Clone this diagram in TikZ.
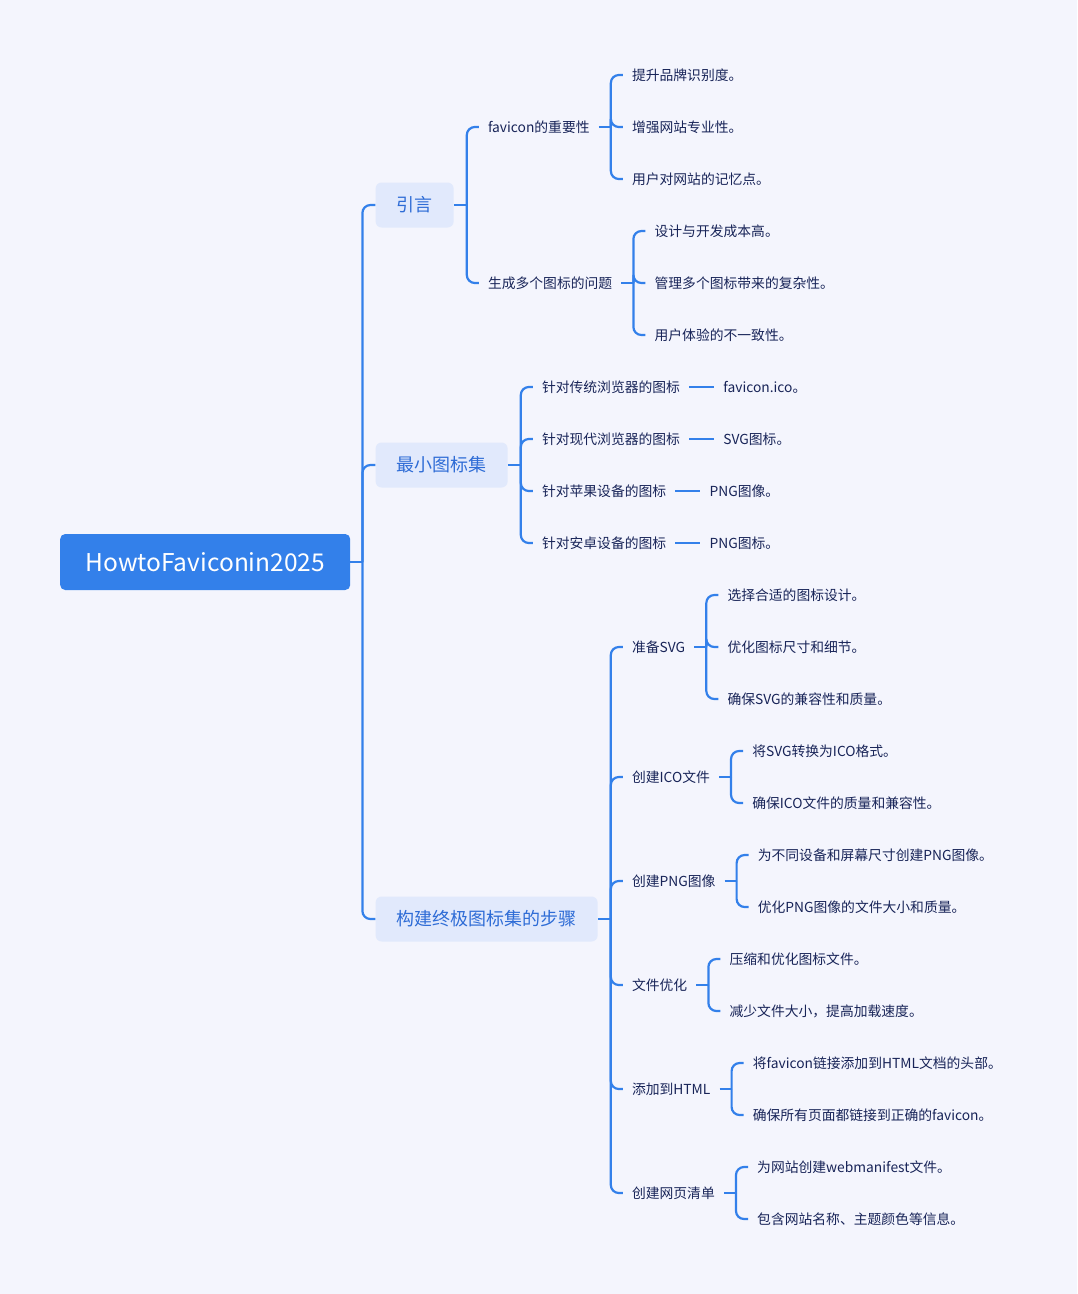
\documentclass[tikz,border=0pt]{standalone}
\usepackage{fontspec}
\setmainfont{Noto Sans CJK SC}
\usetikzlibrary{positioning, calc}
\definecolor{MapBG}{RGB}{244, 245, 253}
\definecolor{MapBlue}{RGB}{51, 128, 234}
\definecolor{TopicFill}{RGB}{225, 233, 252}
\definecolor{TopicText}{RGB}{46, 108, 214}
\definecolor{LeafText}{RGB}{24, 36, 88}
\tikzset{
    rootbox/.style={
        rectangle, rounded corners=5pt, fill=MapBlue, text=white, anchor=west,
        font=\fontsize{24.5}{28}\selectfont, minimum width=290pt, minimum height=56pt
    },
    topicbox/.style={
        rectangle, rounded corners=6pt, fill=TopicFill, text=TopicText, anchor=west,
        font=\fontsize{18}{22}\selectfont, inner xsep=21pt, minimum height=45pt
    },
    leafbox/.style={inner xsep=9pt, inner ysep=2pt, text=LeafText, anchor=west, font=\fontsize{13.8}{16}\selectfont},
    branch/.style={draw=MapBlue, line width=2.2pt, rounded corners=8pt},
}

\begin{document}
\begin{tikzpicture}[x=1pt, y=-1pt]
    \fill[MapBG] (0,0) rectangle (1077,1294);
    \useasboundingbox (0,0) rectangle (1077,1294);

    % Root
    \node[rootbox] (root) at (60,562) {HowtoFaviconin2025};
    \coordinate (f0) at ($(root.east)+(12,0)$);
    \node[topicbox] (intro) at ($(f0)+(13,-357)$) {引言};
    \node[topicbox] (minset) at ($(f0)+(13,-97)$) {最小图标集};
    \node[topicbox] (steps) at ($(f0)+(13,357)$) {构建终极图标集的步骤};
    \draw[branch] (root.east) -- (f0);
    \foreach \t in {intro, minset, steps} \draw[branch] (f0) |- (\t.west);

    % Intro
    \coordinate (f1) at ($(intro.east)+(13,0)$);
    \node[leafbox] (fav) at ($(f1)+(12,-78)$) {favicon的重要性};
    \node[leafbox] (gen) at ($(f1)+(12,78)$) {生成多个图标的问题};
    \draw[branch] (intro.east) -- (f1);
    \foreach \t in {fav, gen} \draw[branch] (f1) |- (\t.west);

    \coordinate (f11) at ($(fav.east)+(12,0)$);
    \node[leafbox] (fav1) at ($(f11)+(12,-52)$) {提升品牌识别度。};
    \node[leafbox] (fav2) at ($(f11)+(12,0)$) {增强网站专业性。};
    \node[leafbox] (fav3) at ($(f11)+(12,52)$) {用户对网站的记忆点。};
    \draw[branch] (fav.east) -- (f11);
    \foreach \t in {fav1, fav2, fav3} \draw[branch] (f11) |- (\t.west);

    \coordinate (f12) at ($(gen.east)+(12,0)$);
    \node[leafbox] (gen1) at ($(f12)+(12,-52)$) {设计与开发成本高。};
    \node[leafbox] (gen2) at ($(f12)+(12,0)$) {管理多个图标带来的复杂性。};
    \node[leafbox] (gen3) at ($(f12)+(12,52)$) {用户体验的不一致性。};
    \draw[branch] (gen.east) -- (f12);
    \foreach \t in {gen1, gen2, gen3} \draw[branch] (f12) |- (\t.west);

    % Minimal set
    \coordinate (f2) at ($(minset.east)+(13,0)$);
    \node[leafbox] (oldbr) at ($(f2)+(12,-78)$) {针对传统浏览器的图标};
    \node[leafbox] (newbr) at ($(f2)+(12,-26)$) {针对现代浏览器的图标};
    \node[leafbox] (apple) at ($(f2)+(12,26)$) {针对苹果设备的图标};
    \node[leafbox] (droid) at ($(f2)+(12,78)$) {针对安卓设备的图标};
    \draw[branch] (minset.east) -- (f2);
    \foreach \t in {oldbr, newbr, apple, droid} \draw[branch] (f2) |- (\t.west);

    \node[leafbox, right=25pt of oldbr] (oldbr1) {favicon.ico。};
    \node[leafbox, right=25pt of newbr] (newbr1) {SVG图标。};
    \node[leafbox, right=25pt of apple] (apple1) {PNG图像。};
    \node[leafbox, right=25pt of droid] (droid1) {PNG图标。};
    \foreach \t in {oldbr, newbr, apple, droid} \draw[branch] (\t.east) -- (\t1.west);

    % Steps
    \coordinate (f3) at ($(steps.east)+(13,0)$);
    \node[leafbox] (svg) at ($(f3)+(12,-272)$) {准备SVG};
    \node[leafbox] (ico) at ($(f3)+(12,-142)$) {创建ICO文件};
    \node[leafbox] (png) at ($(f3)+(12,-38)$) {创建PNG图像};
    \node[leafbox] (opt) at ($(f3)+(12,66)$) {文件优化};
    \node[leafbox] (html) at ($(f3)+(12,170)$) {添加到HTML};
    \node[leafbox] (mani) at ($(f3)+(12,274)$) {创建网页清单};
    \draw[branch] (steps.east) -- (f3);
    \foreach \t in {svg, ico, png, opt, html, mani} \draw[branch] (f3) |- (\t.west);

    \coordinate (f31) at ($(svg.east)+(12,0)$);
    \node[leafbox] (svg1) at ($(f31)+(12,-52)$) {选择合适的图标设计。};
    \node[leafbox] (svg2) at ($(f31)+(12,0)$) {优化图标尺寸和细节。};
    \node[leafbox] (svg3) at ($(f31)+(12,52)$) {确保SVG的兼容性和质量。};
    \draw[branch] (svg.east) -- (f31);
    \foreach \t in {svg1, svg2, svg3} \draw[branch] (f31) |- (\t.west);

    \coordinate (f32) at ($(ico.east)+(12,0)$);
    \node[leafbox] (ico1) at ($(f32)+(12,-26)$) {将SVG转换为ICO格式。};
    \node[leafbox] (ico2) at ($(f32)+(12,26)$) {确保ICO文件的质量和兼容性。};
    \draw[branch] (ico.east) -- (f32);
    \foreach \t in {ico1, ico2} \draw[branch] (f32) |- (\t.west);

    \coordinate (f33) at ($(png.east)+(12,0)$);
    \node[leafbox] (png1) at ($(f33)+(12,-26)$) {为不同设备和屏幕尺寸创建PNG图像。};
    \node[leafbox] (png2) at ($(f33)+(12,26)$) {优化PNG图像的文件大小和质量。};
    \draw[branch] (png.east) -- (f33);
    \foreach \t in {png1, png2} \draw[branch] (f33) |- (\t.west);

    \coordinate (f34) at ($(opt.east)+(12,0)$);
    \node[leafbox] (opt1) at ($(f34)+(12,-26)$) {压缩和优化图标文件。};
    \node[leafbox] (opt2) at ($(f34)+(12,26)$) {减少文件大小，提高加载速度。};
    \draw[branch] (opt.east) -- (f34);
    \foreach \t in {opt1, opt2} \draw[branch] (f34) |- (\t.west);

    \coordinate (f35) at ($(html.east)+(12,0)$);
    \node[leafbox] (html1) at ($(f35)+(12,-26)$) {将favicon链接添加到HTML文档的头部。};
    \node[leafbox] (html2) at ($(f35)+(12,26)$) {确保所有页面都链接到正确的favicon。};
    \draw[branch] (html.east) -- (f35);
    \foreach \t in {html1, html2} \draw[branch] (f35) |- (\t.west);

    \coordinate (f36) at ($(mani.east)+(12,0)$);
    \node[leafbox] (mani1) at ($(f36)+(12,-26)$) {为网站创建webmanifest文件。};
    \node[leafbox] (mani2) at ($(f36)+(12,26)$) {包含网站名称、主题颜色等信息。};
    \draw[branch] (mani.east) -- (f36);
    \foreach \t in {mani1, mani2} \draw[branch] (f36) |- (\t.west);
\end{tikzpicture}
\end{document}
